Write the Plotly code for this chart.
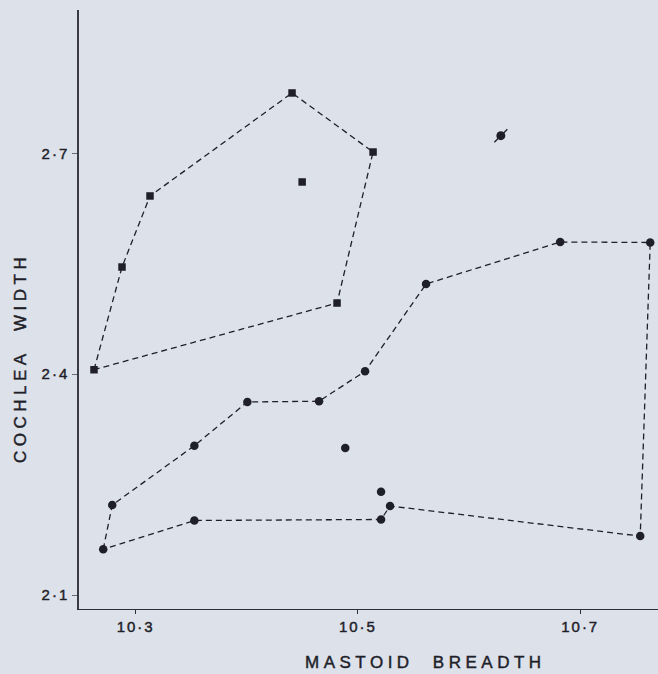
import plotly.graph_objects as go

# Group 1 (squares): hull vertices in order, then interior point
sq_hull_x = [10.2625, 10.2877, 10.3129, 10.4407, 10.5136, 10.4812]
sq_hull_y = [2.406, 2.5455, 2.642, 2.7819, 2.7017, 2.4966]
sq_in_x = [10.4498]
sq_in_y = [2.661]

# Group 2 (circles): hull vertices in order, then interior points
ci_hull_x = [10.2708, 10.2789, 10.3528, 10.4005, 10.465, 10.5064, 10.5613,
             10.682, 10.763, 10.754, 10.5289, 10.5208, 10.3528]
ci_hull_y = [2.1621, 2.2222, 2.3028, 2.3622, 2.3632, 2.4039, 2.5224,
             2.5795, 2.5788, 2.18, 2.2209, 2.2026, 2.2012]
ci_in_x = [10.4886, 10.5208]
ci_in_y = [2.2997, 2.2403]

# Special point (circle with slash)
odd_x = [10.6286]
odd_y = [2.7239]

x_tick_vals = [10.3, 10.5, 10.7]
x_tick_text = ["10·3", "10·5", "10·7"]
y_tick_vals = [2.1, 2.4, 2.7]
y_tick_text = ["2·1", "2·4", "2·7"]
x_title = "MASTOID BREADTH"
y_title = "COCHLEA WIDTH"

INK = "#1f1f2a"
BG = "#dde1e9"
FONT = "Liberation Sans, Arial, sans-serif"


def styled(t, spacing, word=0):
    return ('<span style="letter-spacing:%spx;word-spacing:%spx;'
            'stroke:%s;stroke-width:0.45px">%s</span>' % (spacing, word, INK, t))


fig = go.Figure()

# dashed hulls
fig.add_trace(go.Scatter(
    x=sq_hull_x + sq_hull_x[:1], y=sq_hull_y + sq_hull_y[:1], mode="lines",
    line=dict(color=INK, width=1.3, dash="6px,4px"), hoverinfo="skip"))
fig.add_trace(go.Scatter(
    x=ci_hull_x + ci_hull_x[:1], y=ci_hull_y + ci_hull_y[:1], mode="lines",
    line=dict(color=INK, width=1.3, dash="6px,4px"), hoverinfo="skip"))

# markers
fig.add_trace(go.Scatter(
    x=sq_hull_x + sq_in_x, y=sq_hull_y + sq_in_y, mode="markers",
    marker=dict(symbol="square", size=7.5, color=INK)))
fig.add_trace(go.Scatter(
    x=ci_hull_x + ci_in_x, y=ci_hull_y + ci_in_y, mode="markers",
    marker=dict(symbol="circle", size=8.5, color=INK)))
fig.add_trace(go.Scatter(
    x=odd_x, y=odd_y, mode="markers",
    marker=dict(symbol="circle", size=9, color=INK)))
fig.add_trace(go.Scatter(
    x=odd_x, y=odd_y, mode="markers",
    marker=dict(symbol="line-ne", size=13, color=INK,
                line=dict(color=INK, width=1.3))))

fig.update_layout(
    width=658, height=674,
    margin=dict(l=79, r=0, t=10, b=65),
    paper_bgcolor=BG, plot_bgcolor=BG,
    showlegend=False,
    font=dict(family=FONT, color=INK, size=15),
    xaxis=dict(
        range=[10.249, 10.770], tickvals=x_tick_vals,
        ticktext=[styled(t, 2) for t in x_tick_text],
        showgrid=False, zeroline=False, showline=True, linecolor="#2e2e38",
        linewidth=1.2, ticks="outside", ticklen=4, tickcolor="#2e2e38",
        tickfont=dict(size=15, family=FONT, color=INK)),
    yaxis=dict(
        range=[2.081, 2.8946], tickvals=y_tick_vals,
        ticktext=[styled(t, 2) for t in y_tick_text],
        showgrid=False, zeroline=False, showline=True, linecolor="#3a3a44",
        linewidth=1.5, ticks="outside", ticklen=5, tickcolor="#6a6a74",
        tickfont=dict(size=15, family=FONT, color=INK)),
    annotations=[
        dict(text=styled(x_title, 4.5, 10),
             xref="paper", yref="paper", x=0.5976, y=-0.0885,
             xanchor="center", yanchor="middle", showarrow=False,
             font=dict(size=17, family=FONT, color=INK)),
        dict(text=styled(y_title, 4.5, 10),
             xref="paper", yref="paper", x=-0.1019, y=0.419,
             xanchor="center", yanchor="middle", showarrow=False, textangle=-90,
             font=dict(size=17, family=FONT, color=INK)),
    ],
)

fig.write_html("out.html")
